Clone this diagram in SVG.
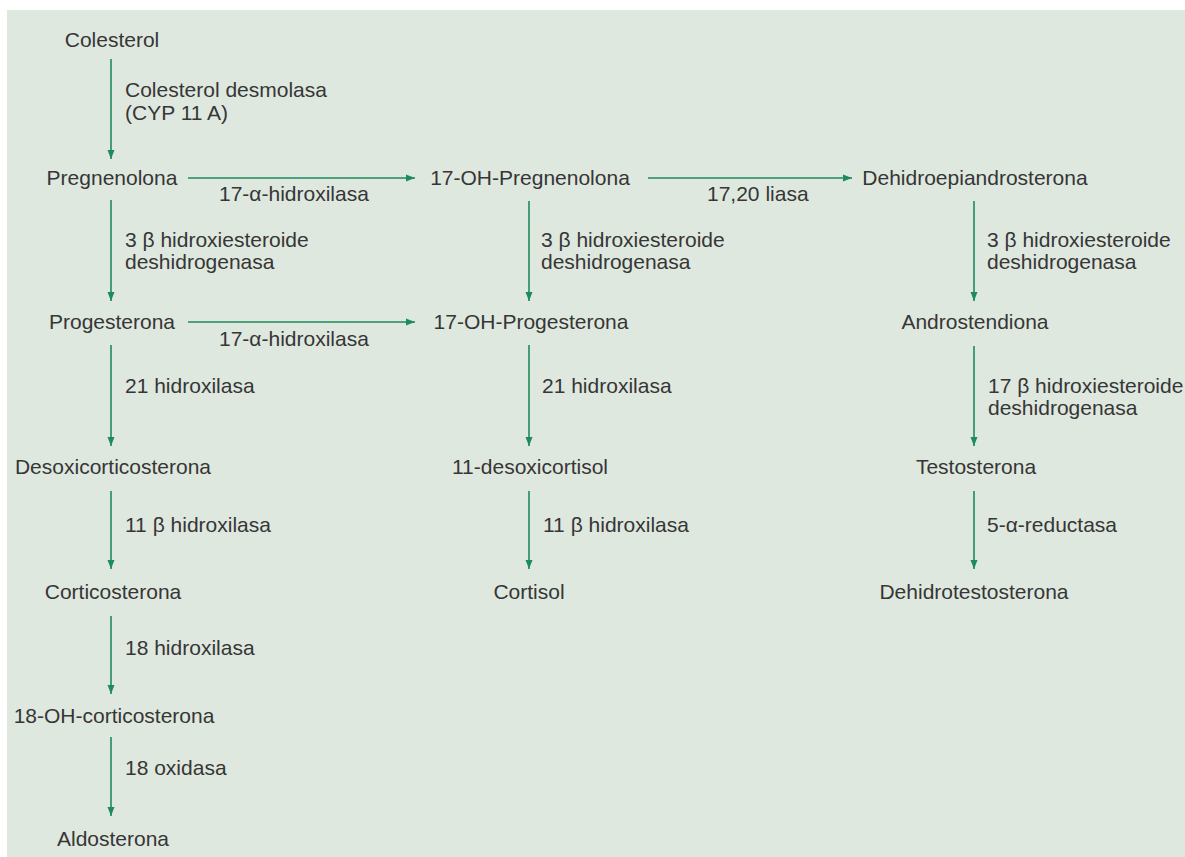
<svg xmlns="http://www.w3.org/2000/svg" width="1185" height="857" viewBox="0 0 1185 857">
<defs>
<style>
.n{font-family:"Liberation Sans",Arial,sans-serif;font-size:21px;fill:#363636;text-anchor:middle}
.l{font-family:"Liberation Sans",Arial,sans-serif;font-size:21px;fill:#363636}
.c{stroke:#1f8a5c;stroke-width:1.6;fill:none;marker-end:url(#ah)}
</style>
<marker id="ah" markerUnits="userSpaceOnUse" markerWidth="10" markerHeight="8" refX="9" refY="4" orient="auto">
<path d="M0,0.5 L9,4 L0,7.5 z" fill="#1f8a5c"/>
</marker>
</defs>
<rect x="0" y="0" width="1185" height="857" fill="#ffffff"/>
<rect x="7" y="10" width="1178" height="847" fill="#dfe8df"/>

<g id="colesterol"><text class="n" x="112" y="47">Colesterol</text></g>
<g id="pregnenolona"><text class="n" x="112" y="185">Pregnenolona</text></g>
<g id="progesterona"><text class="n" x="112" y="329">Progesterona</text></g>
<g id="desoxicorticosterona"><text class="n" x="113" y="474">Desoxicorticosterona</text></g>
<g id="corticosterona"><text class="n" x="113" y="599">Corticosterona</text></g>
<g id="oh18-corticosterona"><text class="n" x="114" y="723">18-OH-corticosterona</text></g>
<g id="aldosterona"><text class="n" x="113" y="846">Aldosterona</text></g>

<g id="oh17-pregnenolona"><text class="n" x="530" y="185">17-OH-Pregnenolona</text></g>
<g id="oh17-progesterona"><text class="n" x="531" y="329">17-OH-Progesterona</text></g>
<g id="desoxicortisol11"><text class="n" x="530" y="474">11-desoxicortisol</text></g>
<g id="cortisol"><text class="n" x="529" y="599">Cortisol</text></g>

<g id="dhea"><text class="n" x="975" y="185">Dehidroepiandrosterona</text></g>
<g id="androstendiona"><text class="n" x="975" y="329">Androstendiona</text></g>
<g id="testosterona"><text class="n" x="976" y="474">Testosterona</text></g>
<g id="dht"><text class="n" x="974" y="599">Dehidrotestosterona</text></g>

<g id="connectors">
<line class="c" x1="111" y1="59" x2="111" y2="159"/>
<line class="c" x1="111" y1="200" x2="111" y2="301"/>
<line class="c" x1="111" y1="345" x2="111" y2="446"/>
<line class="c" x1="111" y1="491" x2="111" y2="569"/>
<line class="c" x1="111" y1="616" x2="111" y2="694"/>
<line class="c" x1="111" y1="737" x2="111" y2="816"/>

<line class="c" x1="529" y1="201" x2="529" y2="301"/>
<line class="c" x1="529" y1="345" x2="529" y2="446"/>
<line class="c" x1="529" y1="491" x2="529" y2="569"/>

<line class="c" x1="974" y1="201" x2="974" y2="301"/>
<line class="c" x1="974" y1="346" x2="974" y2="446"/>
<line class="c" x1="974" y1="491" x2="974" y2="569"/>

<line class="c" x1="188" y1="178" x2="415" y2="178"/>
<line class="c" x1="188" y1="322" x2="415" y2="322"/>
<line class="c" x1="648" y1="178" x2="852" y2="178"/>

<text class="l" x="125" y="97">Colesterol desmolasa</text>
<text class="l" x="125" y="120">(CYP 11 A)</text>
<text class="l" x="219" y="201">17-α-hidroxilasa</text>
<text class="l" x="125" y="247">3 β hidroxiesteroide</text>
<text class="l" x="125" y="269">deshidrogenasa</text>
<text class="l" x="219" y="346">17-α-hidroxilasa</text>
<text class="l" x="125" y="393">21 hidroxilasa</text>
<text class="l" x="125" y="532">11 β hidroxilasa</text>
<text class="l" x="125" y="655">18 hidroxilasa</text>
<text class="l" x="125" y="775">18 oxidasa</text>

<text class="l" x="541" y="247">3 β hidroxiesteroide</text>
<text class="l" x="541" y="269">deshidrogenasa</text>
<text class="l" x="542" y="393">21 hidroxilasa</text>
<text class="l" x="543" y="532">11 β hidroxilasa</text>
<text class="l" x="707" y="201">17,20 liasa</text>

<text class="l" x="987" y="247">3 β hidroxiesteroide</text>
<text class="l" x="987" y="269">deshidrogenasa</text>
<text class="l" x="988" y="393">17 β hidroxiesteroide</text>
<text class="l" x="988" y="415">deshidrogenasa</text>
<text class="l" x="987" y="532">5-α-reductasa</text>
</g>
</svg>
